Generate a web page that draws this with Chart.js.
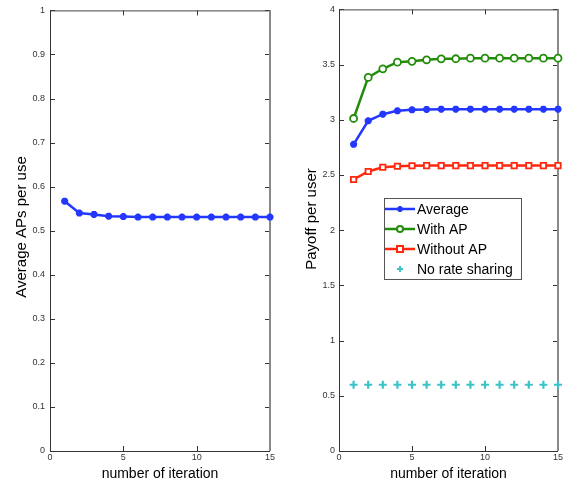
<!DOCTYPE html>
<html>
<head>
<meta charset="utf-8">
<script src="https://cdn.jsdelivr.net/npm/chart.js@4.4.1/dist/chart.umd.min.js"></script>
<style>
  html, body { margin: 0; padding: 0; background: #fff; }
  body { width: 569px; height: 485px; position: relative; overflow: hidden; }
  .box { position: absolute; top: 0; height: 485px; }
  #b1 { left: 0; width: 285px; }
  #b2 { left: 285px; width: 284px; }
</style>
</head>
<body>
<div class="box" id="b1"><canvas id="c1"></canvas></div>
<div class="box" id="b2"><canvas id="c2"></canvas></div>
<script>
// ---- data ----
const iterations = [1, 2, 3, 4, 5, 6, 7, 8, 9, 10, 11, 12, 13, 14, 15];
const avgAPsPerUser = [0.567, 0.540, 0.537, 0.533, 0.532, 0.531, 0.531, 0.531, 0.531, 0.531, 0.531, 0.531, 0.531, 0.531, 0.531];
const payoffAverage = [2.778, 2.991, 3.051, 3.081, 3.090, 3.094, 3.096, 3.096, 3.096, 3.096, 3.096, 3.096, 3.096, 3.096, 3.096];
const payoffWithAP = [3.012, 3.384, 3.462, 3.522, 3.530, 3.543, 3.552, 3.553, 3.558, 3.558, 3.558, 3.558, 3.558, 3.558, 3.558];
const payoffWithoutAP = [2.459, 2.532, 2.570, 2.579, 2.584, 2.585, 2.585, 2.585, 2.585, 2.585, 2.585, 2.585, 2.585, 2.585, 2.585];
const payoffNoRateSharing = [0.6, 0.6, 0.6, 0.6, 0.6, 0.6, 0.6, 0.6, 0.6, 0.6, 0.6, 0.6, 0.6, 0.6, 0.6];
const seriesLabels = ['Average', 'With AP', 'Without AP', 'No rate sharing'];
const xTitle = 'number of iteration';
const yTitleLeft = 'Average APs per use';
const yTitleRight = 'Payoff per user';

const BLUE = 'rgb(35,55,255)';
const GREEN = 'rgb(35,140,10)';
const RED = 'rgb(255,40,15)';
const CYAN = 'rgb(60,195,200)';
const FONT = '"Liberation Sans", Arial, Helvetica, sans-serif';

const pts = (ys) => iterations.map((x, i) => ({ x: x, y: ys[i] }));

// frame + inward ticks + y title
const framePlugin = {
  id: 'frame',
  beforeDatasetsDraw(chart, args, opts) {
    const ctx = chart.ctx, a = chart.chartArea;
    const xs = chart.scales.x, ys = chart.scales.y;
    ctx.save();
    ctx.strokeStyle = '#333';
    ctx.lineWidth = 1;
    ctx.beginPath();
    ys.ticks.forEach(t => {
      const y = Math.round(ys.getPixelForValue(t.value)) + 0.5;
      ctx.moveTo(a.left, y); ctx.lineTo(a.left + 5, y);
      ctx.moveTo(a.right, y); ctx.lineTo(a.right - 5, y);
    });
    xs.ticks.forEach(t => {
      const x = Math.round(xs.getPixelForValue(t.value)) + 0.5;
      ctx.moveTo(x, a.bottom); ctx.lineTo(x, a.bottom - 5);
      ctx.moveTo(x, a.top); ctx.lineTo(x, a.top + 5);
    });
    ctx.stroke();
    // top border
    ctx.strokeStyle = '#444';
    ctx.beginPath();
    ctx.moveTo(a.left, a.top + 0.5); ctx.lineTo(a.right, a.top + 0.5);
    ctx.stroke();
    // right border
    ctx.strokeStyle = '#8a8a8a';
    ctx.lineWidth = 2;
    ctx.beginPath();
    ctx.moveTo(a.right, a.top); ctx.lineTo(a.right, a.bottom);
    ctx.stroke();
    // left & bottom
    ctx.strokeStyle = '#333';
    ctx.lineWidth = 1;
    ctx.beginPath();
    ctx.moveTo(a.left + 0.5, a.top); ctx.lineTo(a.left + 0.5, a.bottom);
    ctx.moveTo(a.left, a.bottom + 0.5); ctx.lineTo(a.right, a.bottom + 0.5);
    ctx.stroke();
    // y title
    ctx.fillStyle = '#000';
    ctx.font = '15px ' + FONT;
    ctx.textAlign = 'center';
    ctx.textBaseline = 'middle';
    ctx.translate(opts.tx, opts.ty);
    ctx.rotate(-Math.PI / 2);
    ctx.fillText(opts.text, 0, 0);
    ctx.restore();
  }
};

function drawMarker(ctx, style, x, y, r, color) {
  ctx.save();
  ctx.strokeStyle = color;
  ctx.fillStyle = color;
  ctx.lineWidth = 2;
  ctx.beginPath();
  if (style === 'star') {
    ctx.moveTo(x - r, y); ctx.lineTo(x + r, y);
    ctx.moveTo(x, y - r); ctx.lineTo(x, y + r);
    const d = r * 0.7;
    ctx.moveTo(x - d, y - d); ctx.lineTo(x + d, y + d);
    ctx.moveTo(x - d, y + d); ctx.lineTo(x + d, y - d);
    ctx.stroke();
  } else if (style === 'circle') {
    ctx.fillStyle = '#fff';
    ctx.arc(x, y, r, 0, Math.PI * 2);
    ctx.fill(); ctx.stroke();
  } else if (style === 'rect') {
    ctx.fillStyle = '#fff';
    ctx.rect(x - r, y - r, 2 * r, 2 * r);
    ctx.fill(); ctx.stroke();
  } else if (style === 'cross') {
    ctx.moveTo(x - r, y); ctx.lineTo(x + r, y);
    ctx.moveTo(x, y - r); ctx.lineTo(x, y + r);
    ctx.stroke();
  }
  ctx.restore();
}

const legendPlugin = {
  id: 'boxLegend',
  afterDatasetsDraw(chart, args, opts) {
    const ctx = chart.ctx;
    const bx = opts.x, by = opts.y, bw = opts.w, bh = opts.h;
    ctx.save();
    ctx.fillStyle = '#fff';
    ctx.fillRect(bx, by, bw, bh);
    ctx.strokeStyle = '#555';
    ctx.lineWidth = 1;
    ctx.strokeRect(bx + 0.5, by + 0.5, bw, bh);
    ctx.font = '14px ' + FONT;
    ctx.textBaseline = 'middle';
    ctx.textAlign = 'left';
    chart.data.datasets.forEach((ds, i) => {
      const y = by + 11 + i * 20;
      if (ds.showLine !== false) {
        ctx.strokeStyle = ds.borderColor;
        ctx.lineWidth = 2.5;
        ctx.beginPath();
        ctx.moveTo(bx + 1, y); ctx.lineTo(bx + 31, y);
        ctx.stroke();
      }
      drawMarker(ctx, ds.pointStyle, bx + 16, y, 3, ds.pointBorderColor || ds.borderColor);
      ctx.fillStyle = '#000';
      ctx.fillText(ds.label, bx + 33, y + 1);
    });
    ctx.restore();
  }
};

const fmtTick = (v) => String(Math.round(v * 10) / 10);

function makeScales(yMin, yMax, yStep, yWidth, tickPad) {
  const tickFont = { family: FONT, size: 9 };
  return {
    x: {
      type: 'linear', min: 0, max: 15,
      afterFit(s) { s.height = 34; },
      ticks: { stepSize: 5, font: tickFont, color: '#333', padding: 1, maxRotation: 0, callback: fmtTick },
      grid: { display: false, drawTicks: false },
      border: { display: false },
      title: { display: true, text: xTitle, font: { family: FONT, size: 14 }, color: '#000', padding: { top: 0, bottom: 2 } }
    },
    y: {
      type: 'linear', min: yMin, max: yMax,
      afterFit(s) { s.width = yWidth; },
      ticks: { stepSize: yStep, font: tickFont, color: '#333', padding: tickPad, callback: fmtTick },
      grid: { display: false, drawTicks: false },
      border: { display: false }
    }
  };
}

Chart.defaults.font.family = FONT;
Chart.defaults.animation = false;

new Chart(document.getElementById('c1'), {
  type: 'line',
  data: {
    datasets: [{
      label: 'Average',
      data: pts(avgAPsPerUser),
      borderColor: BLUE, backgroundColor: BLUE,
      borderWidth: 2.5, pointStyle: 'star', pointRadius: 3.5, pointBorderWidth: 2.5,
      pointBorderColor: BLUE, clip: false
    }]
  },
  options: {
    responsive: true, maintainAspectRatio: false,
    layout: { padding: { top: 7, right: 15, left: 0, bottom: 0 } },
    plugins: {
      legend: { display: false }, tooltip: { enabled: false },
      frame: { text: yTitleLeft, tx: 22, ty: 227 }
    },
    scales: makeScales(0, 1, 0.1, 50, 5)
  },
  plugins: [framePlugin]
});

new Chart(document.getElementById('c2'), {
  type: 'line',
  data: {
    datasets: [
      { label: seriesLabels[0], data: pts(payoffAverage), borderColor: BLUE, backgroundColor: BLUE,
        borderWidth: 2.5, pointStyle: 'star', pointRadius: 3.5, pointBorderWidth: 2.5, pointBorderColor: BLUE, clip: false },
      { label: seriesLabels[1], data: pts(payoffWithAP), borderColor: GREEN, backgroundColor: '#fff',
        borderWidth: 2.5, pointStyle: 'circle', pointRadius: 3.5, pointBorderWidth: 1.8, pointBorderColor: GREEN, pointBackgroundColor: '#fff', clip: false },
      { label: seriesLabels[2], data: pts(payoffWithoutAP), borderColor: RED, backgroundColor: '#fff',
        borderWidth: 2.5, pointStyle: 'rect', pointRadius: 3.8, pointBorderWidth: 1.8, pointBorderColor: RED, pointBackgroundColor: '#fff', clip: false },
      { label: seriesLabels[3], data: pts(payoffNoRateSharing), borderColor: CYAN, backgroundColor: CYAN,
        showLine: false, pointStyle: 'cross', pointRadius: 4, pointBorderWidth: 2.2, pointBorderColor: CYAN, clip: false }
    ]
  },
  options: {
    responsive: true, maintainAspectRatio: false,
    layout: { padding: { top: 7, right: 11, left: 0, bottom: 0 } },
    plugins: {
      legend: { display: false }, tooltip: { enabled: false },
      frame: { text: yTitleRight, tx: 27, ty: 219 },
      boxLegend: { x: 99, y: 198, w: 137, h: 81 }
    },
    scales: makeScales(0, 4, 0.5, 54, 4)
  },
  plugins: [framePlugin, legendPlugin]
});
</script>
</body>
</html>
